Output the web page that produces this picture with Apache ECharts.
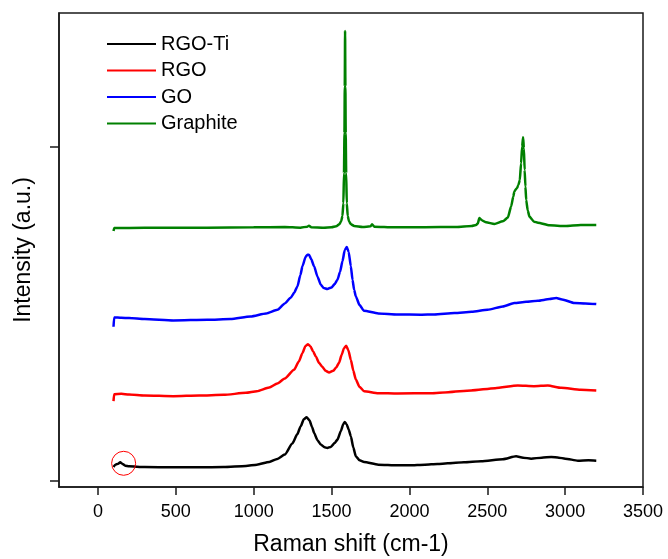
<!DOCTYPE html>
<html><head><meta charset="utf-8">
<script src="https://cdn.jsdelivr.net/npm/echarts@6/dist/echarts.min.js"></script>
<style>html,body{margin:0;padding:0;background:#fff}#c{width:668px;height:559px}</style>
</head><body><div id="c"></div>
<script>
const seriesNames = ['RGO-Ti', 'RGO', 'GO', 'Graphite'];
const xTickValues = [0, 500, 1000, 1500, 2000, 2500, 3000, 3500];
const yTickValues = [0, 1000];
const circleMark = [165, 51];

const rgoTi = [[100,40],[112,47],[130,50],[143,54],[158,49],[175,44],[200,42],[300,40],[485,39],[650,39],[807,40],[950,43],[1021,47],[1100,55],[1152,64],[1200,77],[1248,110],[1280,138],[1302,162],[1322,183],[1340,189],[1358,180],[1375,160],[1388,142],[1410,120],[1431,107],[1455,99],[1473,97],[1495,100],[1520,112],[1538,122],[1560,148],[1575,168],[1585,175],[1597,168],[1610,152],[1624,132],[1640,98],[1656,72],[1680,60],[1709,55],[1800,47],[1924,45],[2000,45],[2100,47],[2180,49],[2246,51],[2350,54],[2460,57],[2600,63],[2685,72],[2730,68],[2782,65],[2850,68],[2911,70],[2960,68],[3000,65],[3082,59],[3150,60],[3200,59]];

const rgo = [[100,237],[104,258],[150,259],[200,257],[300,254],[485,252],[650,254],[807,256],[950,262],[1021,267],[1100,278],[1152,290],[1200,305],[1259,331],[1290,356],[1313,381],[1332,402],[1349,408],[1365,401],[1382,386],[1399,371],[1420,352],[1441,340],[1462,328],[1484,323],[1510,328],[1530,338],[1548,352],[1565,376],[1580,396],[1594,403],[1608,390],[1624,361],[1640,328],[1656,302],[1680,280],[1709,267],[1800,261],[1924,260],[2138,261],[2250,264],[2396,269],[2550,276],[2696,284],[2800,282],[2889,284],[2975,277],[3100,271],[3200,269]];

const go = [[100,460],[104,488],[150,487],[200,486],[300,483],[485,479],[703,481],[851,483],[980,491],[1080,500],[1153,511],[1200,530],[1238,547],[1260,562],[1281,581],[1300,615],[1313,641],[1334,670],[1345,676],[1355,676],[1370,662],[1388,641],[1410,610],[1431,586],[1450,576],[1473,573],[1500,578],[1520,588],[1538,601],[1555,625],[1570,656],[1585,690],[1598,699],[1610,684],[1624,641],[1635,600],[1645,571],[1656,551],[1680,525],[1708,508],[1800,500],[1924,497],[2074,496],[2160,497],[2289,501],[2400,505],[2502,511],[2600,521],[2674,531],[2750,535],[2825,538],[2900,543],[2943,546],[2980,542],[3061,531],[3130,530],[3200,528]];

const graphite = [[100,747],[105,756],[200,756],[400,757],[700,757],[1000,758],[1200,759],[1300,757],[1345,760],[1355,763],[1370,758],[1450,757],[1500,758],[1530,761],[1550,767],[1562,776],[1570,792],[1576,830],[1580,920],[1583,1040],[1585,1180],[1587,1346],[1589,1180],[1591,1040],[1594,920],[1598,830],[1604,792],[1612,776],[1625,767],[1645,762],[1700,759],[1750,761],[1760,767],[1775,760],[1900,758],[2000,758],[2200,759],[2300,759],[2400,762],[2428,765],[2440,770],[2449,786],[2460,781],[2470,778],[2492,773],[2546,768],[2600,776],[2632,787],[2653,820],[2667,850],[2674,865],[2685,873],[2692,876],[2700,885],[2709,900],[2717,950],[2724,1000],[2730,1028],[2735,995],[2740,930],[2745,880],[2750,840],[2760,808],[2771,790],[2800,775],[2825,772],[2900,764],[3000,762],[3100,765],[3200,765]];

const seriesData = [rgoTi, rgo, go, graphite];
const colors = ['#000000', '#ff0000', '#0000ff', '#008000'];

const FONT = "'Liberation Sans', Arial, sans-serif";
const chart = echarts.init(document.getElementById('c'), null, {renderer: 'canvas'});
const axisLineStyle = {color: '#1a1a1a', width: 1.5};

chart.setOption({
  animation: false,
  backgroundColor: '#fff',
  textStyle: {fontFamily: FONT, color: '#000'},
  grid: {left: 59, right: 25, top: 13, bottom: 72, show: true, borderColor: '#1a1a1a', borderWidth: 1.5,
    containLabel: false, outerBoundsMode: 'none'},
  legend: {
    orient: 'vertical', left: 107, top: 34, padding: 0,
    icon: 'rect', itemWidth: 49, itemHeight: 2, itemGap: 6.5,
    textStyle: {fontFamily: FONT, fontSize: 20, color: '#000'},
    data: seriesNames
  },
  xAxis: {
    type: 'value', min: -250, max: 3500,
    name: 'Raman shift (cm-1)', nameLocation: 'middle', nameGap: 46,
    nameTextStyle: {fontFamily: FONT, fontSize: 23, color: '#000'},
    axisLine: {show: true, onZero: false, lineStyle: axisLineStyle},
    axisTick: {show: true, length: 8, lineStyle: axisLineStyle, customValues: xTickValues},
    axisLabel: {fontFamily: FONT, fontSize: 18, color: '#000', margin: 16, customValues: xTickValues,
      formatter: v => String(v)},
    splitLine: {show: false}
  },
  yAxis: {
    type: 'value', min: -20, max: 1400,
    name: 'Intensity (a.u.)', nameLocation: 'middle', nameGap: 24,
    nameTextStyle: {fontFamily: FONT, fontSize: 23, color: '#000'},
    axisLine: {show: true, onZero: false, lineStyle: axisLineStyle},
    axisTick: {show: true, length: 9, lineStyle: axisLineStyle, customValues: yTickValues},
    axisLabel: {show: false},
    splitLine: {show: false}
  },
  series: seriesNames.map((n, i) => ({
    name: n, type: 'line', data: seriesData[i],
    symbol: 'none', smooth: 0.2, smoothMonotone: 'x',
    lineStyle: {color: colors[i], width: 2.5},
    itemStyle: {color: colors[i]},
    z: 4 - i,
    markPoint: i === 0 ? {
      symbol: 'circle', symbolSize: 24,
      itemStyle: {color: 'rgba(0,0,0,0)', borderColor: '#ff0000', borderWidth: 1},
      label: {show: false},
      data: [{coord: circleMark}]
    } : undefined
  }))
});
</script></body></html>
